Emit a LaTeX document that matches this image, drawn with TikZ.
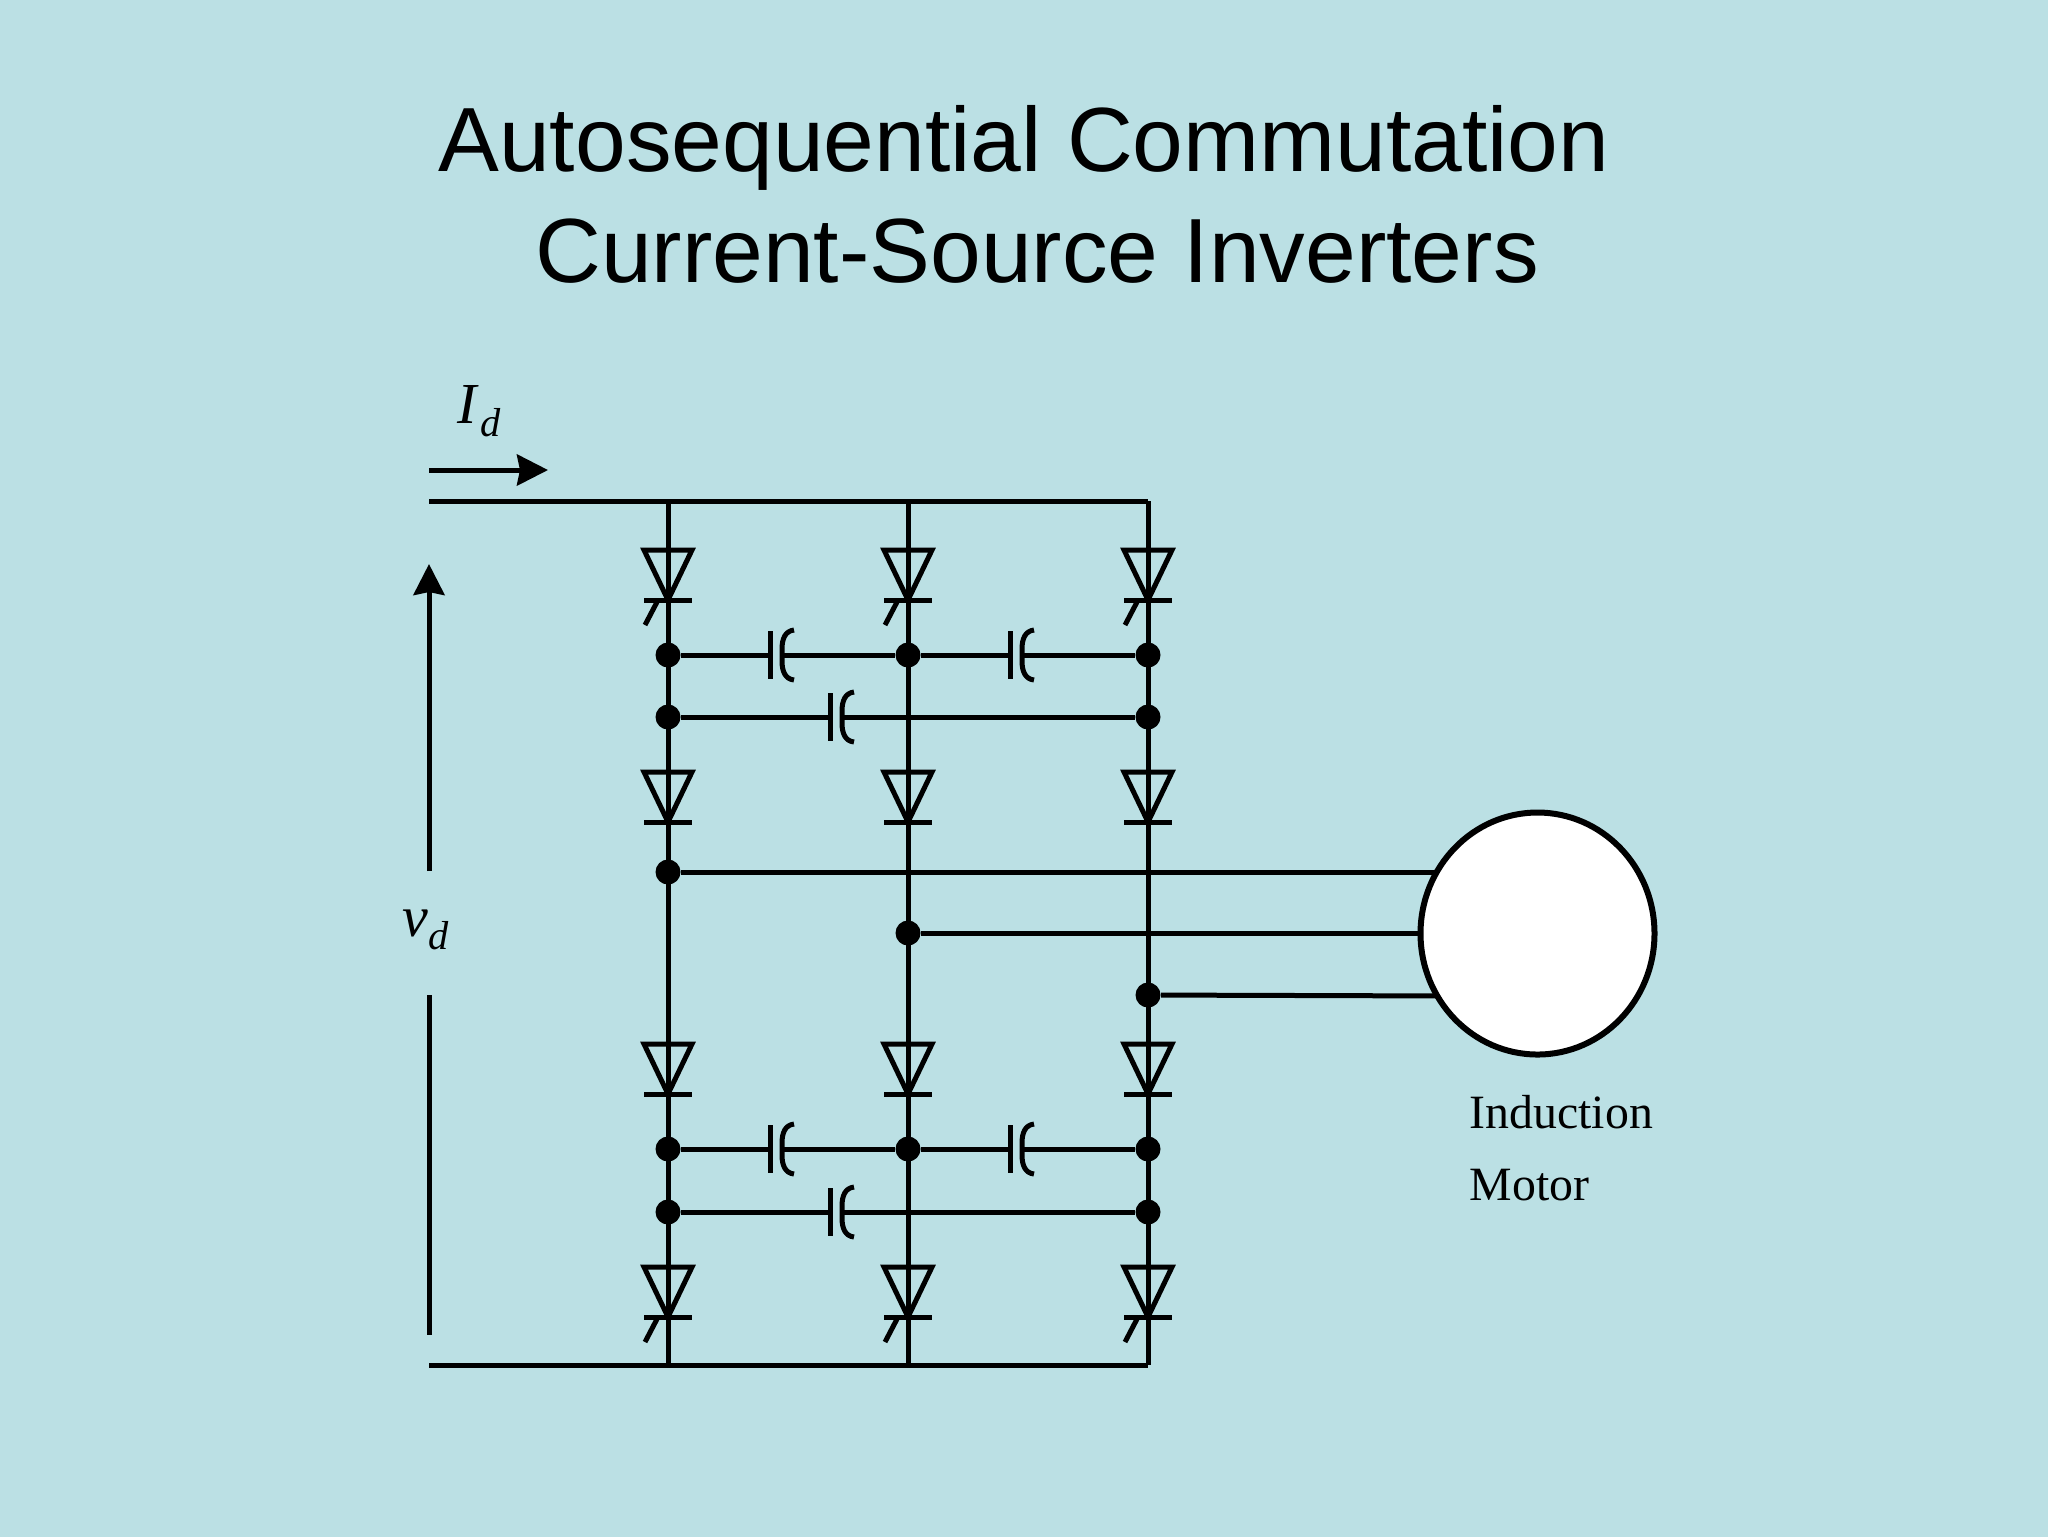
\documentclass[tikz,border=0pt]{standalone}
\usepackage{fontspec}
\setmainfont{Liberation Serif}
\newfontfamily\titlefont{Liberation Sans}
\usetikzlibrary{arrows.meta}
\usetikzlibrary{shapes.geometric}
\definecolor{slidebg}{HTML}{BBE0E4}

\tikzset{
  wire/.style={line width=0.5mm},
  dot/.style={circle, fill=black, inner sep=0pt, minimum size=2.5mm},
  capbox/.style={inner sep=0pt, outer sep=0pt, minimum width=1.2mm, minimum height=4.8mm},
  lbl/.style={anchor=base west, inner sep=0pt},
  ttl/.style={inner sep=0pt, font=\titlefont\fontsize{25.95}{30}\selectfont},
  tip/.style={-{Stealth[length=3.1mm, width=3.1mm, inset=0.3mm]}},
  thyr/.pic={
    \draw[wire] (-24,0) -- (24,0) -- (0,50) -- cycle;
    \draw[wire] (-24,50) -- (24,50);
  },
  gthyr/.pic={
    \pic {thyr};
    \draw[wire] (-11,52) -- (-23,75);
  },
  capa/.pic={
    \node[capbox] (x) {};
    \draw[wire] (x.north west) -- (x.south west);
    \draw[wire] (18,-25) .. controls (9,-24) and (6,-16) .. (6,-6) -- (6,6) .. controls (6,16) and (9,24) .. (18,25);
  }
}

\begin{document}
\begin{tikzpicture}[x=0.1mm, y=-0.1mm]

  \useasboundingbox (0,0) rectangle (2048,1536);
  \fill[slidebg] (-5,-5) rectangle (2053,1541);

  \node[ttl] (title1) at (1024,148) {Autosequential Commutation};
  \node[ttl] (title2) at (1037,251) {Current-Source Inverters};

  \coordinate (rt0) at (429,501);
  \coordinate (rt1) at (668,501);
  \coordinate (rt2) at (908,501);
  \coordinate (rt3) at (1148,501);
  \coordinate (rb0) at (429,1365);
  \coordinate (rb1) at (668,1365);
  \coordinate (rb2) at (908,1365);
  \coordinate (rb3) at (1148,1365);

  \draw[wire] (rt0) -- (rt3);
  \draw[wire] (rb0) -- (rb3);
  \draw[wire] (rt1) -- (rb1);
  \draw[wire] (rt2) -- (rb2);
  \draw[wire] (rt3) -- (rb3);

  \pic at (668,550) {gthyr};
  \pic at (908,550) {gthyr};
  \pic at (1148,550) {gthyr};
  \pic at (668,772) {thyr};
  \pic at (908,772) {thyr};
  \pic at (1148,772) {thyr};
  \pic at (668,1044) {thyr};
  \pic at (908,1044) {thyr};
  \pic at (1148,1044) {thyr};
  \pic at (668,1267) {gthyr};
  \pic at (908,1267) {gthyr};
  \pic at (1148,1267) {gthyr};

  \node[dot] (ua1) at (668,655) {};
  \node[dot] (ua2) at (908,655) {};
  \node[dot] (ua3) at (1148,655) {};
  \node[dot] (ub1) at (668,717) {};
  \node[dot] (ub3) at (1148,717) {};
  \node[dot] (la1) at (668,1149) {};
  \node[dot] (la2) at (908,1149) {};
  \node[dot] (la3) at (1148,1149) {};
  \node[dot] (lb1) at (668,1212) {};
  \node[dot] (lb3) at (1148,1212) {};

  \pic (cua) at (776,655) {capa};
  \pic (cub) at (1016,655) {capa};
  \pic (cuc) at (836,717) {capa};
  \pic (cla) at (776,1149) {capa};
  \pic (clb) at (1016,1149) {capa};
  \pic (clc) at (836,1212) {capa};

  \draw[wire] (ua1) -- (cuax) -- (ua2) -- (cubx) -- (ua3);
  \draw[wire] (ub1) -- (cucx) -- (ub3);
  \draw[wire] (la1) -- (clax) -- (la2) -- (clbx) -- (la3);
  \draw[wire] (lb1) -- (clcx) -- (lb3);

  \node[dot] (ph1) at (668,872) {};
  \node[dot] (ph2) at (908,933) {};
  \node[dot] (ph3) at (1148,995) {};
  \coordinate (m1) at (1460,872);
  \coordinate (m2) at (1460,933);
  \coordinate (m3) at (1460,996);
  \draw[wire] (ph1) -- (m1);
  \draw[wire] (ph2) -- (m2);
  \draw[wire] (ph3) -- (m3);

  \node[ellipse, draw, line width=0.6mm, fill=white, inner sep=0pt, minimum width=23.4mm, minimum height=24.2mm] (motor) at (1537.5,933.5) {};

  \node[lbl, font=\fontsize{13.6}{16}\selectfont] (ind) at (1469,1128) {Induction};
  \node[lbl, font=\fontsize{13.6}{16}\selectfont] (mot) at (1469,1200) {Motor};

  \coordinate (ia) at (429,470);
  \coordinate (ib) at (548,470);
  \draw[wire, tip] (ia) -- (ib);
  \node[lbl, font=\fontsize{16.5}{18}\selectfont\itshape] (id) at (457,423) {I\kern0.3mm\raisebox{-1.3mm}{\fontsize{11.5}{12}\selectfont d}};

  \coordinate (va) at (429,871);
  \coordinate (vb) at (429,564);
  \coordinate (vc) at (429,995);
  \coordinate (vd) at (429,1335);
  \draw[wire, tip] (va) -- (vb);
  \draw[wire] (vc) -- (vd);
  \node[lbl, font=\fontsize{16.5}{18}\selectfont\itshape] (vlab) at (402,936) {v\raisebox{-1.3mm}{\fontsize{11.5}{12}\selectfont d}};

\end{tikzpicture}
\end{document}
